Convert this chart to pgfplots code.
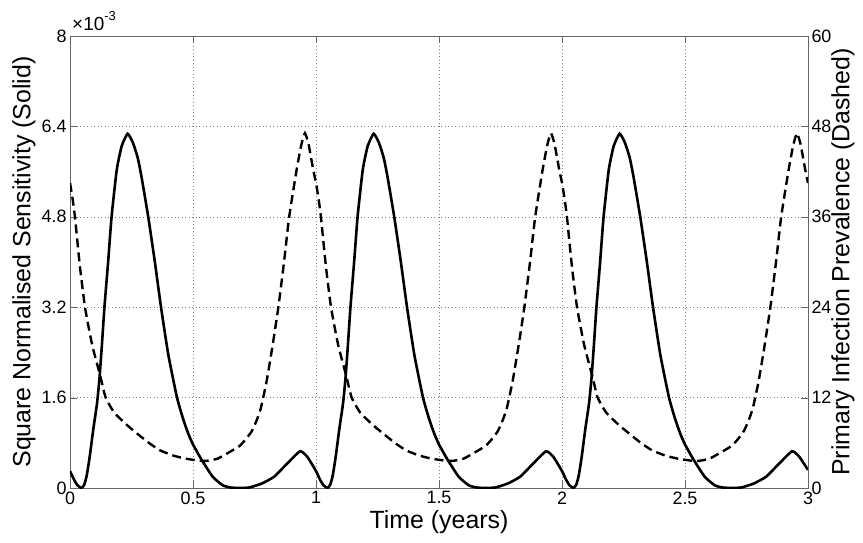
\documentclass[border=0pt]{standalone}
\usepackage{fontspec}
\setmainfont{Liberation Sans}
\usepackage{pgfplots}
\pgfplotsset{compat=1.18}
\pgfplotstableread{
t v
0.000 0.30
0.015 0.16
0.030 0.05
0.047 0.00
0.058 0.06
0.068 0.22
0.080 0.55
0.095 1.05
0.110 1.50
0.120 1.95
0.130 2.55
0.140 3.20
0.155 4.00
0.169 4.80
0.190 5.63
0.210 6.05
0.234 6.27
0.255 6.12
0.275 5.85
0.291 5.50
0.318 4.80
0.345 4.00
0.370 3.20
0.400 2.35
0.435 1.60
0.460 1.22
0.480 0.97
0.500 0.77
0.535 0.50
0.580 0.20
0.620 0.05
0.650 0.01
0.690 0.00
0.730 0.01
0.780 0.08
0.830 0.20
0.880 0.42
0.935 0.65
0.965 0.55
1.000 0.30
1.015 0.16
1.030 0.05
1.047 0.00
1.058 0.06
1.068 0.22
1.080 0.55
1.095 1.05
1.110 1.50
1.120 1.95
1.130 2.55
1.140 3.20
1.155 4.00
1.169 4.80
1.190 5.63
1.210 6.05
1.234 6.27
1.255 6.12
1.275 5.85
1.291 5.50
1.318 4.80
1.345 4.00
1.370 3.20
1.400 2.35
1.435 1.60
1.460 1.22
1.480 0.97
1.500 0.77
1.535 0.50
1.580 0.20
1.620 0.05
1.650 0.01
1.690 0.00
1.730 0.01
1.780 0.08
1.830 0.20
1.880 0.42
1.935 0.65
1.965 0.55
2.000 0.30
2.015 0.16
2.030 0.05
2.047 0.00
2.058 0.06
2.068 0.22
2.080 0.55
2.095 1.05
2.110 1.50
2.120 1.95
2.130 2.55
2.140 3.20
2.155 4.00
2.169 4.80
2.190 5.63
2.210 6.05
2.234 6.27
2.255 6.12
2.275 5.85
2.291 5.50
2.318 4.80
2.345 4.00
2.370 3.20
2.400 2.35
2.435 1.60
2.460 1.22
2.480 0.97
2.500 0.77
2.535 0.50
2.580 0.20
2.620 0.05
2.650 0.01
2.690 0.00
2.730 0.01
2.780 0.08
2.830 0.20
2.880 0.42
2.935 0.65
2.965 0.55
3.000 0.32
}\solid
\pgfplotstableread{
t p
0.000 40.5
0.010 38.5
0.020 36.0
0.040 29.5
0.061 24.0
0.090 19.0
0.122 15.0
0.145 12.0
0.180 10.0
0.230 8.4
0.274 7.2
0.320 6.0
0.366 5.0
0.420 4.3
0.470 3.9
0.520 3.65
0.556 3.6
0.600 3.9
0.650 4.8
0.690 5.6
0.718 6.6
0.740 7.6
0.759 9.0
0.775 10.5
0.786 12.1
0.800 14.3
0.823 18.8
0.847 24.0
0.870 30.0
0.891 36.0
0.921 42.2
0.940 45.5
0.955 47.1
0.970 45.6
0.989 42.2
1.000 40.5
1.010 38.5
1.020 36.0
1.040 29.5
1.061 24.0
1.090 19.0
1.122 15.0
1.145 12.0
1.180 10.0
1.230 8.4
1.274 7.2
1.320 6.0
1.366 5.0
1.420 4.3
1.470 3.9
1.520 3.65
1.556 3.6
1.600 3.9
1.650 4.8
1.690 5.6
1.718 6.6
1.740 7.6
1.759 9.0
1.775 10.5
1.786 12.1
1.800 14.3
1.823 18.8
1.847 24.0
1.870 30.0
1.891 36.0
1.921 42.2
1.940 45.5
1.955 47.1
1.970 45.6
1.989 42.2
2.000 40.5
2.010 38.5
2.020 36.0
2.040 29.5
2.061 24.0
2.090 19.0
2.122 15.0
2.145 12.0
2.180 10.0
2.230 8.4
2.274 7.2
2.320 6.0
2.366 5.0
2.420 4.3
2.470 3.9
2.520 3.65
2.556 3.6
2.600 3.9
2.650 4.8
2.690 5.6
2.718 6.6
2.740 7.6
2.759 9.0
2.775 10.5
2.786 12.1
2.800 14.3
2.823 18.8
2.847 24.0
2.870 30.0
2.891 36.0
2.921 42.2
2.940 45.5
2.955 47.1
2.970 45.6
2.989 42.2
3.000 40.5
}\dashed
\begin{document}
\begin{tikzpicture}
\path[use as bounding box] (-70bp,-55bp) rectangle (793bp,488bp);
\pgfplotsset{
  common/.style={
    scale only axis, width=738bp, height=452bp,
    xmin=0, xmax=3,
    tick align=inside, major tick length=7bp,
    axis line style={black!60},
    tick style={black!60},
    /pgf/number format/assume math mode=true,
    ticklabel style={font=\fontsize{18}{20}\selectfont},
    label style={font=\fontsize{25}{28}\selectfont},
  }
}
\begin{axis}[common, name=ax1,
  ymin=0, ymax=8,
  xtick={0,0.5,1,1.5,2,2.5,3},
  xticklabels={0,0.5,1,1.5,2,2.5,3},
  ytick={0,1.6,3.2,4.8,6.4,8},
  yticklabels={0,1.6,3.2,4.8,6.4,8},
  ytick pos=left, xtick pos=both,
  grid=major,
  grid style={dash pattern=on 1bp off 2.5bp, black!50},
  xlabel={Time (years)},
  ylabel={Square Normalised Sensitivity (Solid)},
  xlabel style={at={(axis description cs:0.5,-0.0752)}, anchor=center},
  ylabel style={at={(axis description cs:-0.0623,0.5)}, anchor=center},
]
\addplot[black, line width=2.6bp, smooth, tension=0.3] table[x=t, y=v] {\solid};
\end{axis}
\node[anchor=base west, inner sep=0pt, xshift=2bp, yshift=6bp]
  at (ax1.north west) {\fontsize{19}{21}\selectfont ×10\raisebox{1.0ex}{\fontsize{13}{15}\selectfont -3}};
\begin{axis}[common,
  ymin=0, ymax=60,
  axis x line=none, axis y line*=right,
  ytick={0,12,24,36,48,60},
  ylabel={Primary Infection Prevalence (Dashed)},
  ylabel style={at={(axis description cs:1.0474,0.5)}, anchor=center},
]
\addplot[black, line width=2.4bp, dash pattern=on 9bp off 5bp, smooth, tension=0.3] table[x=t, y=p] {\dashed};
\end{axis}
\end{tikzpicture}
\end{document}
